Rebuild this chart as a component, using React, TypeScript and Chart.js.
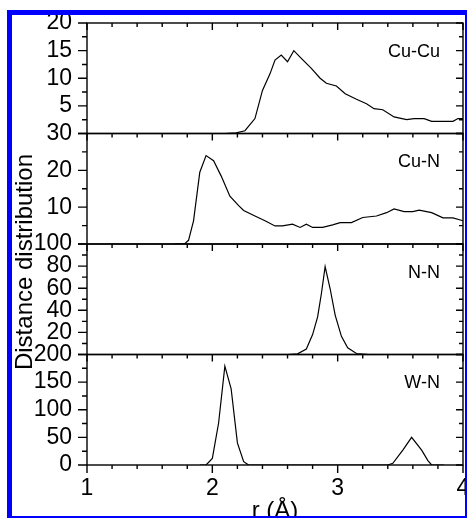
import React, { useEffect, useRef } from "react";
import { Chart, registerables } from "chart.js";

Chart.register(...registerables);

// ---- data ----
const panelNames = ["Cu-Cu", "Cu-N", "N-N", "W-N"];
const xAxisTitle = "r (Å)";
const yAxisTitle = "Distance distribution";

const xTickValues = [1, 2, 3, 4];
const xMinorStep = 0.2;

const cuCuR = [2.10, 2.19, 2.26, 2.34, 2.40, 2.46, 2.50, 2.55, 2.60, 2.65, 2.71, 2.79, 2.86, 2.91, 2.99, 3.06, 3.15, 3.23, 3.29, 3.36, 3.45, 3.55, 3.61, 3.69, 3.75, 3.84, 3.92, 3.96, 4.0];
const cuCuV = [0, 0.1, 0.5, 2.7, 7.8, 10.8, 13.3, 14.2, 13.0, 15.0, 13.6, 11.8, 10.0, 9.1, 8.6, 7.2, 6.2, 5.4, 4.5, 4.3, 3.0, 2.5, 2.7, 2.7, 2.2, 2.2, 2.2, 2.7, 2.7];

const cuNR = [1.70, 1.78, 1.81, 1.85, 1.90, 1.95, 2.01, 2.07, 2.14, 2.21, 2.25, 2.34, 2.42, 2.50, 2.56, 2.64, 2.70, 2.75, 2.80, 2.88, 2.96, 3.02, 3.11, 3.20, 3.31, 3.39, 3.45, 3.53, 3.60, 3.65, 3.75, 3.84, 3.92, 4.0];
const cuNV = [0, 0.1, 1.0, 6.3, 19.5, 24, 22.6, 18.5, 13, 10.4, 9.1, 7.6, 6.3, 4.9, 4.9, 5.4, 4.5, 5.4, 4.5, 4.5, 5.2, 5.8, 5.8, 7.2, 7.6, 8.5, 9.5, 8.8, 8.8, 9.2, 8.5, 7.1, 7.1, 6.3];

const nNR = [2.60, 2.68, 2.75, 2.80, 2.84, 2.87, 2.90, 2.94, 2.98, 3.03, 3.08, 3.15, 3.25];
const nNV = [0, 0.6, 5, 18, 34, 55, 79.5, 59.5, 35.7, 16.4, 6, 0.9, 0];

const wNR = [1.90, 1.95, 2.00, 2.05, 2.10, 2.15, 2.20, 2.25, 2.29, 3.40, 3.44, 3.52, 3.59, 3.67, 3.72, 3.75, 3.85];
const wNV = [0, 0, 12, 76, 179, 138, 40, 6, 0, 0, 3, 27, 50, 27, 8, 0, 0];

const cuCuTicks = [5, 10, 15, 20];
const cuNTicks = [10, 20, 30];
const nNTicks = [20, 40, 60, 80, 100];
const wNTicks = [0, 50, 100, 150, 200];

const panelMax = [20, 30, 100, 200];
const panelMajorStep = [5, 10, 20, 50];

const FONT = "'Liberation Sans', Arial, sans-serif";

export default function App() {
  const ref = useRef<HTMLCanvasElement>(null);

  useEffect(() => {
    if (!ref.current) return;
    const panels = [
      { r: cuCuR, v: cuCuV, ticks: cuCuTicks },
      { r: cuNR, v: cuNV, ticks: cuNTicks },
      { r: nNR, v: nNV, ticks: nNTicks },
      { r: wNR, v: wNV, ticks: wNTicks },
    ];
    const yKeys = panels.map((_, i) => "y" + i);

    const scales: any = {
      x: {
        type: "linear",
        position: "bottom",
        min: 1,
        max: 4,
        afterBuildTicks: (s: any) => {
          s.ticks = xTickValues.map((v) => ({ value: v }));
        },
        afterFit: (s: any) => {
          s.height = 75;
          s.paddingLeft = 0;
          s.paddingRight = 0;
        },
        grid: { display: false, drawTicks: false },
        border: { display: false },
        ticks: {
          autoSkip: false,
          maxRotation: 0,
          padding: 10,
          color: "#000",
          font: { family: FONT, size: 23 },
          callback: (v: any) => String(v),
        },
        title: {
          display: true,
          text: xAxisTitle,
          color: "#000",
          font: { family: FONT, size: 24 },
          padding: { top: 0, bottom: 14 },
        },
      },
    };
    // define in reverse so the first panel is placed on top of the stack
    for (let i = panels.length - 1; i >= 0; i--) {
      const p = panels[i];
      scales[yKeys[i]] = {
        type: "linear",
        position: "left",
        stack: "panels",
        stackWeight: 1,
        min: 0,
        max: panelMax[i],
        afterBuildTicks: (s: any) => {
          s.ticks = p.ticks.map((v) => ({ value: v }));
        },
        afterFit: (s: any) => {
          s.width = 87;
          s.paddingTop = 0;
          s.paddingBottom = 0;
        },
        grid: { display: false, drawTicks: false },
        border: { display: false },
        ticks: {
          autoSkip: false,
          padding: 15,
          color: "#000",
          font: { family: FONT, size: 23 },
          callback: (v: any) => String(v),
        },
      };
    }

    const framePlugin = {
      id: "frames",
      afterDatasetsDraw(chart: any) {
        const ctx = chart.ctx;
        const xs = chart.scales.x;
        const { left, right, top: areaTop, bottom: areaBottom } = chart.chartArea;
        ctx.save();
        ctx.strokeStyle = "#000";
        ctx.lineWidth = 1.4;
        const nX = Math.round((xs.max - xs.min) / xMinorStep);
        yKeys.forEach((key, i) => {
          const ys = chart.scales[key];
          const top = ys.top;
          const bottom = ys.bottom;
          ctx.strokeRect(left, top, right - left, bottom - top);
          ctx.beginPath();
          // x ticks on top edge, pointing down
          for (let k = 0; k <= nX; k++) {
            const px = xs.getPixelForValue(xs.min + k * xMinorStep);
            const major = k % 5 === 0;
            ctx.moveTo(px, top);
            ctx.lineTo(px, top + (major ? 7 : 4));
            if (i === yKeys.length - 1) {
              ctx.moveTo(px, bottom);
              ctx.lineTo(px, bottom + (major ? 8 : 4));
            }
          }
          // y ticks
          const minor = panelMajorStep[i] / 2;
          const nY = Math.round(panelMax[i] / minor);
          for (let k = 0; k <= nY; k++) {
            const py = ys.getPixelForValue(k * minor);
            const major = k % 2 === 0;
            ctx.moveTo(left - (major ? 9 : 5), py);
            ctx.lineTo(left, py);
            ctx.moveTo(right - (major ? 7 : 4), py);
            ctx.lineTo(right, py);
          }
          ctx.stroke();
          // panel label
          ctx.fillStyle = "#000";
          ctx.font = `18px ${FONT}`;
          ctx.textAlign = "right";
          ctx.textBaseline = "middle";
          ctx.fillText(panelNames[i], right - 23, top + (bottom - top) * 0.26);
        });
        // y title
        ctx.translate(25, (areaTop + areaBottom) / 2 + 18);
        ctx.rotate(-Math.PI / 2);
        ctx.font = `24px ${FONT}`;
        ctx.textAlign = "center";
        ctx.textBaseline = "middle";
        ctx.fillText(yAxisTitle, 0, 0);
        ctx.restore();
      },
    };

    const chart = new Chart(ref.current, {
      type: "line",
      data: {
        datasets: panels.map((p, i) => ({
          label: panelNames[i],
          data: p.r.map((r, j) => ({ x: r, y: p.v[j] })),
          xAxisID: "x",
          yAxisID: yKeys[i],
          borderColor: "#000",
          borderWidth: 1.2,
          pointRadius: 0,
          tension: 0,
          fill: false,
        })),
      },
      options: {
        responsive: false,
        animation: false,
        layout: { padding: { top: 23, right: 4, left: 0, bottom: 0 } },
        scales,
        plugins: {
          legend: { display: false },
          tooltip: { enabled: false },
        },
      },
      plugins: [framePlugin],
    });
    return () => chart.destroy();
  }, []);

  return (
    <div
      style={{
        position: "fixed",
        left: 0,
        top: 0,
        width: 467,
        height: 518,
        overflow: "hidden",
        background: "#fff",
      }}
    >
      <canvas
        ref={ref}
        width={467}
        height={540}
        style={{ position: "absolute", left: 0, top: 0 }}
      />
      <div
        style={{
          position: "absolute",
          left: 7,
          top: 10,
          width: 460,
          height: 508,
          boxSizing: "border-box",
          borderStyle: "solid",
          borderColor: "#0000ff",
          borderWidth: "5px 2px 2px 5px",
          pointerEvents: "none",
        }}
      />
    </div>
  );
}
